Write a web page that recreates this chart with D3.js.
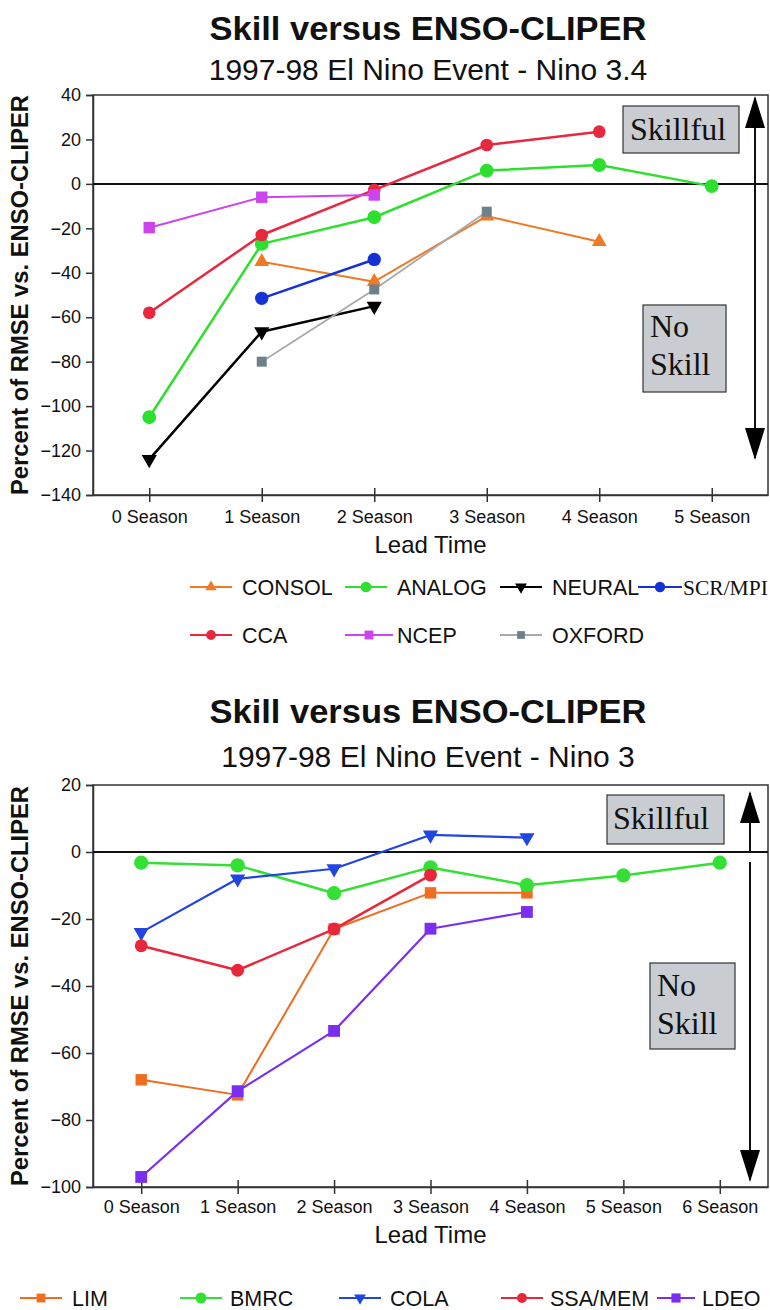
<!DOCTYPE html>
<html><head><meta charset="utf-8">
<script src="https://cdn.jsdelivr.net/npm/d3@7"></script>
<style>body{margin:0;background:#fff} svg{display:block}</style>
</head><body><svg id="c" width="770" height="1310"></svg>
<script>
// ---------- DATA ----------
const seasonsTop = ["0 Season","1 Season","2 Season","3 Season","4 Season","5 Season"];
const yTicksTop = [40,20,0,-20,-40,-60,-80,-100,-120,-140];
const consol = [null,-35,-44,-14.5,-26,null];
const analog = [-105,-27,-15,6,8.5,-1];
const neural = [-124,-66.5,-55,null,null,null];
const scrmpi = [null,-51.5,-34,null,null,null];
const cca    = [-58,-23,-2.7,17.5,23.5,null];
const ncep   = [-19.7,-6,-5,null,null,null];
const oxford = [null,-80,-47.5,-12.5,null,null];

const seasonsBottom = ["0 Season","1 Season","2 Season","3 Season","4 Season","5 Season","6 Season"];
const yTicksBottom = [20,0,-20,-40,-60,-80,-100];
const lim    = [-68,-72.5,-23,-12.2,-12.2,null,null];
const bmrc   = [-3.2,-4,-12.3,-4.6,-9.9,-7,-3.2];
const cola   = [-24,-8,-5,5.1,4.3,null,null];
const ssamem = [-28,-35.3,-23,-6.9,null,null,null];
const ldeo   = [-97,-71.4,-53.4,-22.9,-17.9,null,null];

// ---------- DRAWING ----------
const SANS = "'Liberation Sans', Arial, Helvetica, sans-serif";
const SERIF = "'Liberation Serif', 'Times New Roman', serif";
const svg = d3.select("#c");

function sym(type, size, rot) {
  return {type, size, rot: rot || 0};
}

function drawChart(cfg) {
  const g = svg.append("g");
  const x = d3.scalePoint().domain(cfg.seasons).range([cfg.left, cfg.right]).padding(0.5);
  const y = d3.scaleLinear().domain([cfg.ticks[cfg.ticks.length-1], cfg.ticks[0]]).range([cfg.bottom, cfg.top]);
  const cx = (cfg.left + cfg.right) / 2;

  // titles
  g.append("text").attr("x", 428).attr("y", cfg.titleY).attr("text-anchor","middle")
    .attr("font-family", SANS).attr("font-weight","bold").attr("font-size", 34)
    .attr("textLength", 437).attr("lengthAdjust","spacingAndGlyphs")
    .attr("fill","#111").text("Skill versus ENSO-CLIPER");
  g.append("text").attr("x", 428).attr("y", cfg.subY).attr("text-anchor","middle")
    .attr("font-family", SANS).attr("font-size", 30).attr("fill","#111").text(cfg.subtitle);

  // y label
  g.append("text").attr("transform", `translate(28,${(cfg.top+cfg.bottom)/2}) rotate(-90)`)
    .attr("text-anchor","middle").attr("font-family", SANS).attr("font-weight","bold")
    .attr("font-size", 23).attr("textLength", 400).attr("lengthAdjust","spacingAndGlyphs")
    .attr("fill","#111").text("Percent of RMSE vs. ENSO-CLIPER");

  // frame
  g.append("rect").attr("x", cfg.left).attr("y", cfg.top)
    .attr("width", cfg.right - cfg.left).attr("height", cfg.bottom - cfg.top)
    .attr("fill","none").attr("stroke","#333").attr("stroke-width",1.5);

  // y axis
  const ya = g.append("g").attr("transform", `translate(${cfg.left},0)`)
    .call(d3.axisLeft(y).tickValues(cfg.ticks).tickSize(7).tickPadding(5).tickFormat(d3.format("d")));
  ya.select(".domain").attr("stroke","#333").attr("stroke-width",1.5);
  ya.selectAll(".tick line").attr("stroke","#333").attr("stroke-width",1.5);
  ya.selectAll(".tick text").attr("font-family", SANS).attr("font-size", 18).attr("fill","#111");

  // x axis with crossing ticks
  const xa = g.append("g").attr("transform", `translate(0,${cfg.bottom})`)
    .call(d3.axisBottom(x).tickSizeInner(7).tickSizeOuter(0).tickPadding(8));
  xa.select(".domain").attr("stroke","#333").attr("stroke-width",1.5);
  xa.selectAll(".tick line").attr("y1",-7).attr("y2",7).attr("stroke","#333").attr("stroke-width",1.5);
  xa.selectAll(".tick text").attr("font-family", SANS).attr("font-size", 18).attr("fill","#111")
    .attr("dy", null).attr("y", cfg.xLabelDy);

  g.append("text").attr("x", cx).attr("y", cfg.leadY).attr("text-anchor","middle")
    .attr("font-family", SANS).attr("font-size", 24).attr("fill","#111").text("Lead Time");

  // zero line
  g.append("line").attr("x1", cfg.left).attr("x2", cfg.right).attr("y1", y(0)).attr("y2", y(0))
    .attr("stroke","#111").attr("stroke-width",2);

  // annotation boxes
  cfg.boxes.forEach(b => {
    g.append("rect").attr("x", b.x).attr("y", b.y).attr("width", b.w).attr("height", b.h)
      .attr("fill","#c9ccd0").attr("stroke","#333").attr("stroke-width",1.2);
    b.lines.forEach((t,i) => {
      g.append("text").attr("x", b.tx).attr("y", b.ty + i*38).attr("font-family", SERIF)
        .attr("font-size", 32).attr("fill","#111").text(t);
    });
  });
  // arrows
  cfg.arrows.forEach(a => {
    g.append("line").attr("x1", a.x).attr("x2", a.x).attr("y1", a.y1).attr("y2", a.y2)
      .attr("stroke","#111").attr("stroke-width",2);
    if (a.up) g.append("path").attr("d", `M${a.x},${a.y1-2}L${a.x-10},${a.y1+30}L${a.x+10},${a.y1+30}Z`).attr("fill","#000");
    if (a.down) g.append("path").attr("d", `M${a.x},${a.y2+2}L${a.x-10},${a.y2-30}L${a.x+10},${a.y2-30}Z`).attr("fill","#000");
  });

  // series
  const line = d3.line().defined(d => d.v != null).x(d => x(d.s)).y(d => y(d.v));
  cfg.series.forEach(s => {
    const pts = s.values.map((v,i) => ({s: cfg.seasons[i], v}));
    g.append("path").datum(pts).attr("d", line).attr("fill","none")
      .attr("stroke", s.line || s.color).attr("stroke-width", s.width || 2.5)
      .attr("stroke-linejoin","round");
    g.selectAll(null).data(pts.filter(d => d.v != null)).enter().append("path")
      .attr("d", d3.symbol().type(s.m.type).size(s.m.size))
      .attr("transform", d => `translate(${x(d.s)},${y(d.v)}) rotate(${s.m.rot})`)
      .attr("fill", s.color);
  });

  // legend
  cfg.series.forEach(s => {
    const L = s.leg;
    g.append("line").attr("x1", L.x).attr("x2", L.x + (L.len || 42)).attr("y1", L.y).attr("y2", L.y)
      .attr("stroke", s.line || s.color).attr("stroke-width", 2);
    g.append("path").attr("d", d3.symbol().type(s.m.type).size(s.m.size * 0.6))
      .attr("transform", `translate(${L.x + (L.len || 42)/2},${L.y}) rotate(${s.m.rot})`)
      .attr("fill", s.color);
    g.append("text").attr("x", L.tx).attr("y", L.y + 7.5)
      .attr("font-family", L.serif ? SERIF : SANS).attr("font-size", 21.5).attr("fill","#111").text(s.name);
  });
}

const TRI = d3.symbolTriangle, CIR = d3.symbolCircle, SQ = d3.symbolSquare;

drawChart({
  seasons: seasonsTop, ticks: yTicksTop,
  left: 93, right: 768, top: 95, bottom: 495,
  titleY: 40, subY: 80, subtitle: "1997-98 El Nino Event - Nino 3.4",
  xLabelDy: 28, leadY: 553,
  boxes: [
    {x: 623, y: 106, w: 116, h: 47, tx: 630, ty: 140, lines: ["Skillful"]},
    {x: 643, y: 305, w: 83, h: 87, tx: 650, ty: 337, lines: ["No","Skill"]}
  ],
  arrows: [{x: 755, y1: 98, y2: 458, up: true, down: true}],
  series: [
    {name:"CONSOL", values: consol, color:"#ee7a26", width:2, m: sym(TRI, 95, 0), leg:{x:190, y:587, tx:242}},
    {name:"ANALOG", values: analog, color:"#2ee02e", m: sym(CIR, 150, 0), leg:{x:345, y:587, tx:397}},
    {name:"NEURAL", values: neural, color:"#000000", m: sym(TRI, 100, 180), leg:{x:500, y:587, tx:552}},
    {name:"SCR/MPI", values: scrmpi, color:"#1432d6", m: sym(CIR, 140, 0), leg:{x:638, y:587, tx:683, len:44, serif:true}},
    {name:"CCA", values: cca, color:"#e8283f", m: sym(CIR, 125, 0), leg:{x:190, y:635, tx:242}},
    {name:"NCEP", values: ncep, color:"#cc44ee", width:2, m: sym(SQ, 130, 0), leg:{x:345, y:635, tx:397, len:48}},
    {name:"OXFORD", values: oxford, color:"#6e808c", line:"#a9a9a9", width:1.8, m: sym(SQ, 100, 0), leg:{x:500, y:635, tx:552}}
  ]
});

drawChart({
  seasons: seasonsBottom, ticks: yTicksBottom,
  left: 93, right: 768, top: 785, bottom: 1187,
  titleY: 723, subY: 767, subtitle: "1997-98 El Nino Event - Nino 3",
  xLabelDy: 26, leadY: 1243,
  boxes: [
    {x: 607, y: 795, w: 117, h: 49, tx: 613, ty: 829, lines: ["Skillful"]},
    {x: 650, y: 963, w: 85, h: 86, tx: 657, ty: 996, lines: ["No","Skill"]}
  ],
  arrows: [{x: 750, y1: 793, y2: 851, up: true}, {x: 750, y1: 862, y2: 1180, down: true}],
  series: [
    {name:"LIM", values: lim, color:"#f06c1e", width:2, m: sym(SQ, 130, 0), leg:{x:20, y:1298, tx:72}},
    {name:"BMRC", values: bmrc, color:"#33e033", m: sym(CIR, 160, 0), leg:{x:180, y:1298, tx:230}},
    {name:"COLA", values: cola, color:"#2045e0", width:2.2, m: sym(TRI, 100, 180), leg:{x:339, y:1298, tx:390}},
    {name:"SSA/MEM", values: ssamem, color:"#e8283a", m: sym(CIR, 130, 0), leg:{x:501, y:1298, tx:550}},
    {name:"LDEO", values: ldeo, color:"#7a2ff0", width:2.2, m: sym(SQ, 140, 0), leg:{x:657, y:1298, tx:702, len:38}}
  ]
});
</script>
</body></html>
